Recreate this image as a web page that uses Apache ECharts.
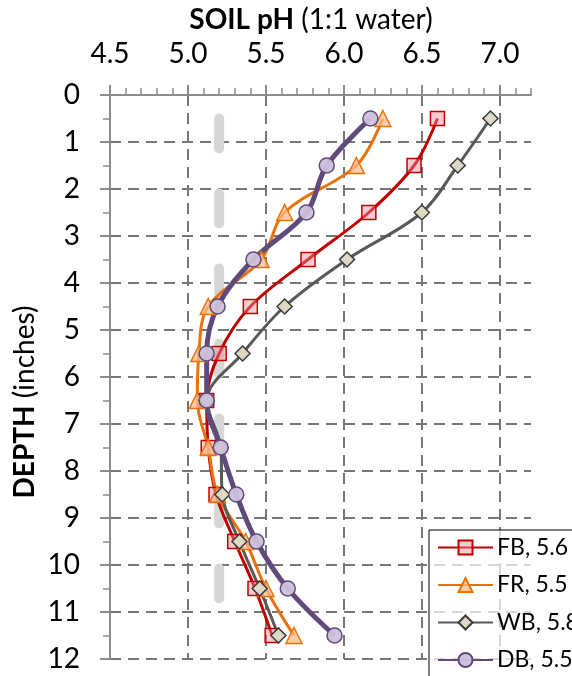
<!DOCTYPE html>
<html>
<head>
<meta charset="utf-8">
<script src="https://cdn.jsdelivr.net/npm/echarts@6/dist/echarts.min.js"></script>
<style>
  html, body { margin: 0; padding: 0; background: #fff; }
  #chart { width: 572px; height: 676px; }
</style>
</head>
<body>
<div id="chart"></div>
<script>
// Sampling depths (inches) and soil pH per profile
const depths = [0.5, 1.5, 2.5, 3.5, 4.5, 5.5, 6.5, 7.5, 8.5, 9.5, 10.5, 11.5];
const phFB = [6.60, 6.45, 6.16, 5.77, 5.40, 5.20, 5.12, 5.13, 5.18, 5.30, 5.43, 5.54];
const phFR = [6.25, 6.08, 5.62, 5.47, 5.13, 5.07, 5.06, 5.13, 5.19, 5.37, 5.50, 5.68];
const phWB = [6.94, 6.73, 6.50, 6.02, 5.62, 5.35, 5.12, 5.21, 5.22, 5.33, 5.46, 5.58];
const phDB = [6.17, 5.89, 5.76, 5.42, 5.19, 5.12, 5.12, 5.21, 5.31, 5.44, 5.64, 5.94];
const seriesNames = ['FB, 5.6', 'FR, 5.5', 'WB, 5.8', 'DB, 5.5'];

// Reference pH line
const refPH = 5.2;
const refDepths = [0.5, 11.5];

// Axis ranges
const phMin = 4.5, phMax = 7.2, phMajorMax = 7.0, phMajorStep = 0.5, phMinorStep = 0.1;
const depthMin = 0, depthMax = 12, depthMajorStep = 1, depthMinorStep = 0.5;

const FONT = 'Lato, "Open Sans", sans-serif';
const FS = 28;
const axisGray = '#8c8c8c';
const gridDash = { color: '#767676', width: 2, type: [11, 7] };

const pairs = (xs) => xs.map((v, i) => [v, depths[i]]);

function dataSeries(name, values, lineColor, lineWidth, symbol, size, fill, border) {
  return {
    name: name,
    type: 'line',
    xAxisIndex: 0, yAxisIndex: 0,
    data: pairs(values),
    smooth: 0.35,
    symbol: symbol,
    symbolSize: size,
    lineStyle: { color: lineColor, width: lineWidth },
    itemStyle: { color: fill, borderColor: border, borderWidth: 1.5 },
    emphasis: { disabled: true },
    animation: false
  };
}

const chart = echarts.init(document.getElementById('chart'));
chart.setOption({
  backgroundColor: '#fff',
  animation: false,
  grid: [
    { left: 110, top: 95, width: 421, height: 564 },
    { left: 110, top: 95, width: 390, height: 564 }
  ],
  xAxis: [
    {
      gridIndex: 0, type: 'value', position: 'top',
      min: phMin, max: phMax, interval: phMinorStep,
      axisLine: { show: true, onZero: false, lineStyle: { color: axisGray, width: 2 } },
      axisTick: { show: true, length: 7, lineStyle: { color: axisGray, width: 1.5 } },
      axisLabel: { show: false },
      splitLine: { show: false }
    },
    {
      gridIndex: 1, type: 'value', position: 'top',
      min: phMin, max: phMajorMax, interval: phMajorStep,
      axisLine: { show: false, onZero: false },
      axisTick: { show: true, length: 10, lineStyle: { color: axisGray, width: 2 } },
      axisLabel: {
        color: '#000', fontFamily: FONT, fontSize: FS, margin: 27,
        formatter: (v) => v.toFixed(1)
      },
      splitLine: { show: true, showMinLine: false, lineStyle: gridDash }
    }
  ],
  yAxis: [
    {
      gridIndex: 0, type: 'value', inverse: true, position: 'left',
      min: depthMin, max: depthMax, interval: depthMinorStep,
      axisLine: { show: true, onZero: false, lineStyle: { color: axisGray, width: 2 } },
      axisTick: { show: true, length: 7, lineStyle: { color: axisGray, width: 1.5 } },
      axisLabel: {
        color: '#000', fontFamily: FONT, fontSize: FS, margin: 30,
        formatter: (v) => (Number.isInteger(v) ? String(v) : '')
      },
      splitLine: { show: false }
    },
    {
      gridIndex: 0, type: 'value', inverse: true, position: 'left',
      min: depthMin, max: depthMax, interval: depthMajorStep,
      axisLine: { show: false, onZero: false },
      axisTick: { show: true, length: 10, lineStyle: { color: axisGray, width: 2 } },
      axisLabel: { show: false },
      splitLine: { show: true, showMinLine: false, lineStyle: gridDash }
    },
    {
      gridIndex: 1, type: 'value', inverse: true, show: false,
      min: depthMin, max: depthMax
    }
  ],
  legend: {
    data: seriesNames,
    orient: 'vertical',
    left: 429, top: 530, width: 400, height: 400,
    padding: [6, 8, 6, 8],
    itemWidth: 55, itemHeight: 17.5, itemGap: 14.5,
    backgroundColor: 'rgba(255,255,255,0.7)',
    borderColor: '#000', borderWidth: 1,
    textStyle: { color: '#000', fontFamily: FONT, fontSize: 23, padding: [0, 0, 0, -1] },
    selectedMode: false
  },
  graphic: [
    {
      type: 'text', x: 311, y: 20,
      style: {
        text: '{b|SOIL pH} (1:1 water)',
        fontFamily: FONT, fontSize: FS, fill: '#000',
        align: 'center', verticalAlign: 'middle',
        rich: { b: { fontFamily: FONT, fontSize: FS, fontWeight: 'bold', fill: '#000' } }
      }
    },
    {
      type: 'text', x: 25, y: 402, rotation: Math.PI / 2,
      style: {
        text: '{b|DEPTH} (inches)',
        fontFamily: FONT, fontSize: FS, fill: '#000',
        align: 'center', verticalAlign: 'middle',
        rich: { b: { fontFamily: FONT, fontSize: FS, fontWeight: 'bold', fill: '#000' } }
      }
    }
  ],
  series: [
    {
      name: 'reference',
      type: 'line',
      xAxisIndex: 0, yAxisIndex: 0,
      data: refDepths.map((d) => [refPH, d]),
      symbol: 'none',
      lineStyle: { color: '#d6d6d6', width: 10, type: [30, 45], cap: 'round' },
      silent: true,
      animation: false
    },
    dataSeries(seriesNames[0], phFB, '#C00000', 3, 'rect', 14, 'rgba(240,140,150,0.45)', '#C00000'),
    dataSeries(seriesNames[1], phFR, '#E8720C', 3, 'triangle', 16, 'rgba(250,190,140,0.75)', '#E8720C'),
    dataSeries(seriesNames[2], phWB, '#595959', 3, 'diamond', 15, '#DDD9C3', '#3a3a3a'),
    dataSeries(seriesNames[3], phDB, '#604A7B', 5, 'circle', 15, 'rgba(204,193,218,0.95)', '#604A7B')
  ]
});
</script>
</body>
</html>
